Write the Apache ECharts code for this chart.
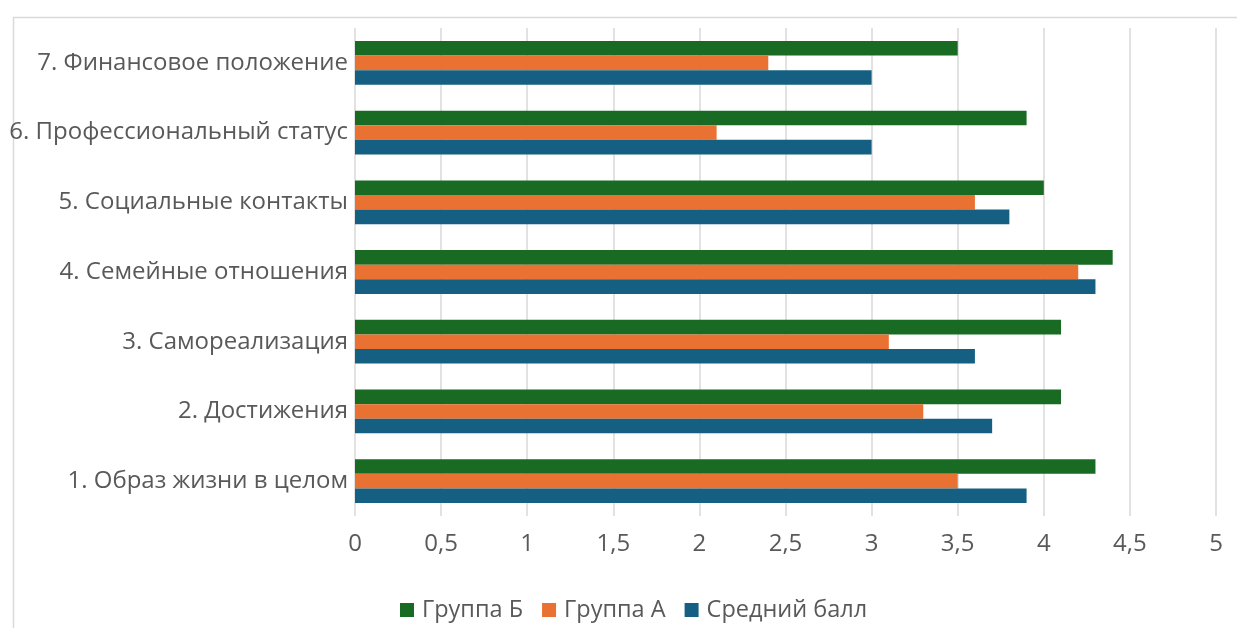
<!DOCTYPE html>
<html>
<head>
<meta charset="utf-8">
<script src="https://cdn.jsdelivr.net/npm/echarts@6/dist/echarts.min.js"></script>
<style>
    html, body { margin: 0; padding: 0; background: #fff; }
    #chart { width: 1237px; height: 628px; }
</style>
</head>
<body>
<div id="chart"></div>
<script>
var categories = [
    "1. Образ жизни в целом",
    "2. Достижения",
    "3. Самореализация",
    "4. Семейные отношения",
    "5. Социальные контакты",
    "6. Профессиональный статус",
    "7. Финансовое положение"
];
var groupB = [4.3, 4.1, 4.1, 4.4, 4.0, 3.9, 3.5];
var groupA = [3.5, 3.3, 3.1, 4.2, 3.6, 2.1, 2.4];
var average = [3.9, 3.7, 3.6, 4.3, 3.8, 3.0, 3.0];
var xTicks = { min: 0, max: 5, interval: 0.5 };

var textColor = "#595959";
var fontFamily = "'Open Sans', sans-serif";

var chart = echarts.init(document.getElementById("chart"));

var bar = function (name, data, color) {
    return {
        name: name,
        type: "bar",
        data: data,
        barWidth: 14.6,
        barGap: "0%",
        itemStyle: { color: color },
        emphasis: { disabled: true }
    };
};

chart.setOption({
    animation: false,
    textStyle: { fontFamily: fontFamily },
    graphic: [{
        type: "rect",
        left: 11,
        top: 15,
        shape: { width: 1400, height: 800 },
        style: { fill: "none", stroke: "#d9d9d9", lineWidth: 1.5 },
        silent: true
    }],
    grid: { left: 355, right: 21, top: 28, bottom: 112, containLabel: false },
    legend: {
        data: ["Группа Б", "Группа А", "Средний балл"],
        left: 395,
        top: 593,
        itemWidth: 14,
        itemHeight: 14,
        itemGap: 19,
        icon: "rect",
        textStyle: { color: textColor, fontSize: 23.5, fontFamily: fontFamily, padding: [0, 0, 0, 3] }
    },
    xAxis: {
        type: "value",
        min: xTicks.min,
        max: xTicks.max,
        interval: xTicks.interval,
        axisLine: { show: false },
        axisTick: { show: false },
        splitLine: { lineStyle: { color: "#d9d9d9", width: 1.5 } },
        axisLabel: {
            color: textColor,
            fontSize: 24,
            margin: 16,
            formatter: function (v) { return String(v).replace(".", ","); }
        }
    },
    yAxis: {
        type: "category",
        data: categories,
        axisLine: { show: false },
        axisTick: { show: false },
        axisLabel: { color: textColor, fontSize: 24, margin: 7 }
    },
    series: [
        bar("Группа Б", groupB, "#196b24"),
        bar("Группа А", groupA, "#e97132"),
        bar("Средний балл", average, "#156082")
    ]
});
</script>
</body>
</html>
